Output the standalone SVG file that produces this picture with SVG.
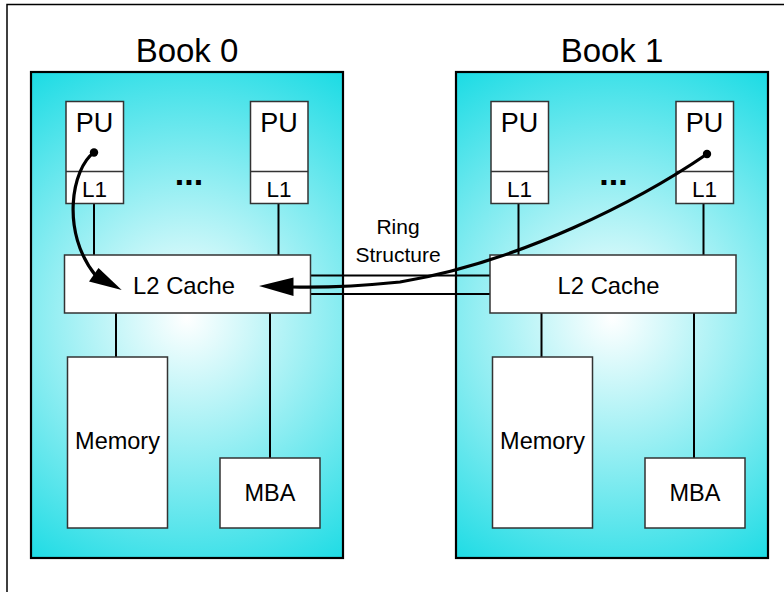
<svg xmlns="http://www.w3.org/2000/svg" width="784" height="592" viewBox="0 0 784 592">
<defs>
<radialGradient id="g0" gradientUnits="userSpaceOnUse" cx="187" cy="318" r="292">
<stop offset="0" stop-color="#FFFFFF"/>
<stop offset="1" stop-color="#1ADBE4"/>
</radialGradient>
<radialGradient id="g1" gradientUnits="userSpaceOnUse" cx="612" cy="318" r="292">
<stop offset="0" stop-color="#FFFFFF"/>
<stop offset="1" stop-color="#1ADBE4"/>
</radialGradient>
</defs>
<style>
.book{stroke:#000;stroke-width:2.2}
.box{fill:#fff;stroke:#333;stroke-width:1.5}
.t{font-family:"Liberation Sans",Arial,sans-serif;fill:#000;text-anchor:middle}
.ln{stroke:#000;stroke-width:2;fill:none}
.arr{stroke:#000;stroke-width:3.2;fill:none}
</style>
<rect width="784" height="592" fill="#fff"/>
<path d="M7,592 V4.5 H784" fill="none" stroke="#000" stroke-width="1.5"/>

<g id="book0">
<rect class="book" x="31" y="72" width="312" height="486" fill="url(#g0)"/>
<text class="t" x="187" y="62" font-size="33">Book 0</text>
</g>
<g id="book1">
<rect class="book" x="456" y="72" width="312" height="486" fill="url(#g1)"/>
<text class="t" x="612" y="62" font-size="33">Book 1</text>
</g>

<g id="connectors">
<line class="ln" x1="94" y1="203" x2="94" y2="255"/>
<line class="ln" x1="278.5" y1="203" x2="278.5" y2="255"/>
<line class="ln" x1="518.5" y1="203" x2="518.5" y2="255"/>
<line class="ln" x1="703.5" y1="203" x2="703.5" y2="255"/>
<line class="ln" x1="116" y1="313" x2="116" y2="357"/>
<line class="ln" x1="270" y1="313" x2="270" y2="458"/>
<line class="ln" x1="541.5" y1="313" x2="541.5" y2="357"/>
<line class="ln" x1="694" y1="313" x2="694" y2="458"/>
<line class="ln" x1="310.5" y1="275.5" x2="490" y2="275.5"/>
<line class="ln" x1="310.5" y1="294" x2="490" y2="294"/>
</g>

<g id="pu0a">
<rect class="box" x="66" y="101.5" width="57.5" height="102"/>
<line x1="66" y1="171.5" x2="123.5" y2="171.5" stroke="#333" stroke-width="1.5"/>
<text class="t" x="94.5" y="132" font-size="27">PU</text>
<text class="t" x="94.5" y="196.5" font-size="22.5">L1</text>
</g>
<g id="pu0b">
<rect class="box" x="250.5" y="101.5" width="57.5" height="102"/>
<line x1="250.5" y1="171.5" x2="308" y2="171.5" stroke="#333" stroke-width="1.5"/>
<text class="t" x="279" y="132" font-size="27">PU</text>
<text class="t" x="279" y="196.5" font-size="22.5">L1</text>
</g>
<g id="pu1a">
<rect class="box" x="491" y="101.5" width="57.5" height="102"/>
<line x1="491" y1="171.5" x2="548.5" y2="171.5" stroke="#333" stroke-width="1.5"/>
<text class="t" x="519.5" y="132" font-size="27">PU</text>
<text class="t" x="519.5" y="196.5" font-size="22.5">L1</text>
</g>
<g id="pu1b">
<rect class="box" x="676" y="101.5" width="57.5" height="102"/>
<line x1="676" y1="171.5" x2="733.5" y2="171.5" stroke="#333" stroke-width="1.5"/>
<text class="t" x="704.5" y="132" font-size="27">PU</text>
<text class="t" x="704.5" y="196.5" font-size="22.5">L1</text>
</g>
<g id="dots0"><text class="t" x="189" y="185" font-size="34" font-weight="bold">...</text></g>
<g id="dots1"><text class="t" x="613.5" y="185" font-size="34" font-weight="bold">...</text></g>

<g id="l2c0">
<rect class="box" x="64.5" y="255" width="246" height="58"/>
<text class="t" x="184" y="293.5" font-size="23.8">L2 Cache</text>
</g>
<g id="l2c1">
<rect class="box" x="490" y="255" width="246" height="58"/>
<text class="t" x="608.5" y="293.5" font-size="23.8">L2 Cache</text>
</g>
<g id="mem0">
<rect class="box" x="67.5" y="357" width="100" height="171"/>
<text class="t" x="117.5" y="448.5" font-size="23.5">Memory</text>
</g>
<g id="mba0">
<rect class="box" x="220" y="458" width="100" height="70"/>
<text class="t" x="270" y="500.5" font-size="23.5">MBA</text>
</g>
<g id="mem1">
<rect class="box" x="492.5" y="357" width="100" height="171"/>
<text class="t" x="542.5" y="448.5" font-size="23.5">Memory</text>
</g>
<g id="mba1">
<rect class="box" x="645" y="458" width="100" height="70"/>
<text class="t" x="695" y="500.5" font-size="23.5">MBA</text>
</g>
<g id="ring">
<text class="t" x="398" y="234" font-size="21">Ring</text>
<text class="t" x="398" y="261.5" font-size="21">Structure</text>
</g>

<g id="arrows">
<circle cx="94" cy="152.5" r="4.2" fill="#000"/>
<path class="arr" d="M94,152.5 C72,168 60,232 96,276"/>
<polygon points="121.7,290 89,281.5 98.5,268" fill="#000"/>
<circle cx="707" cy="154" r="4.2" fill="#000"/>
<path class="arr" d="M707,154 C640,200 520,262 400,282 C370,285 330,288 292,287"/>
<polygon points="259,286 293.5,277.5 293.5,296" fill="#000"/>
</g>
</svg>
